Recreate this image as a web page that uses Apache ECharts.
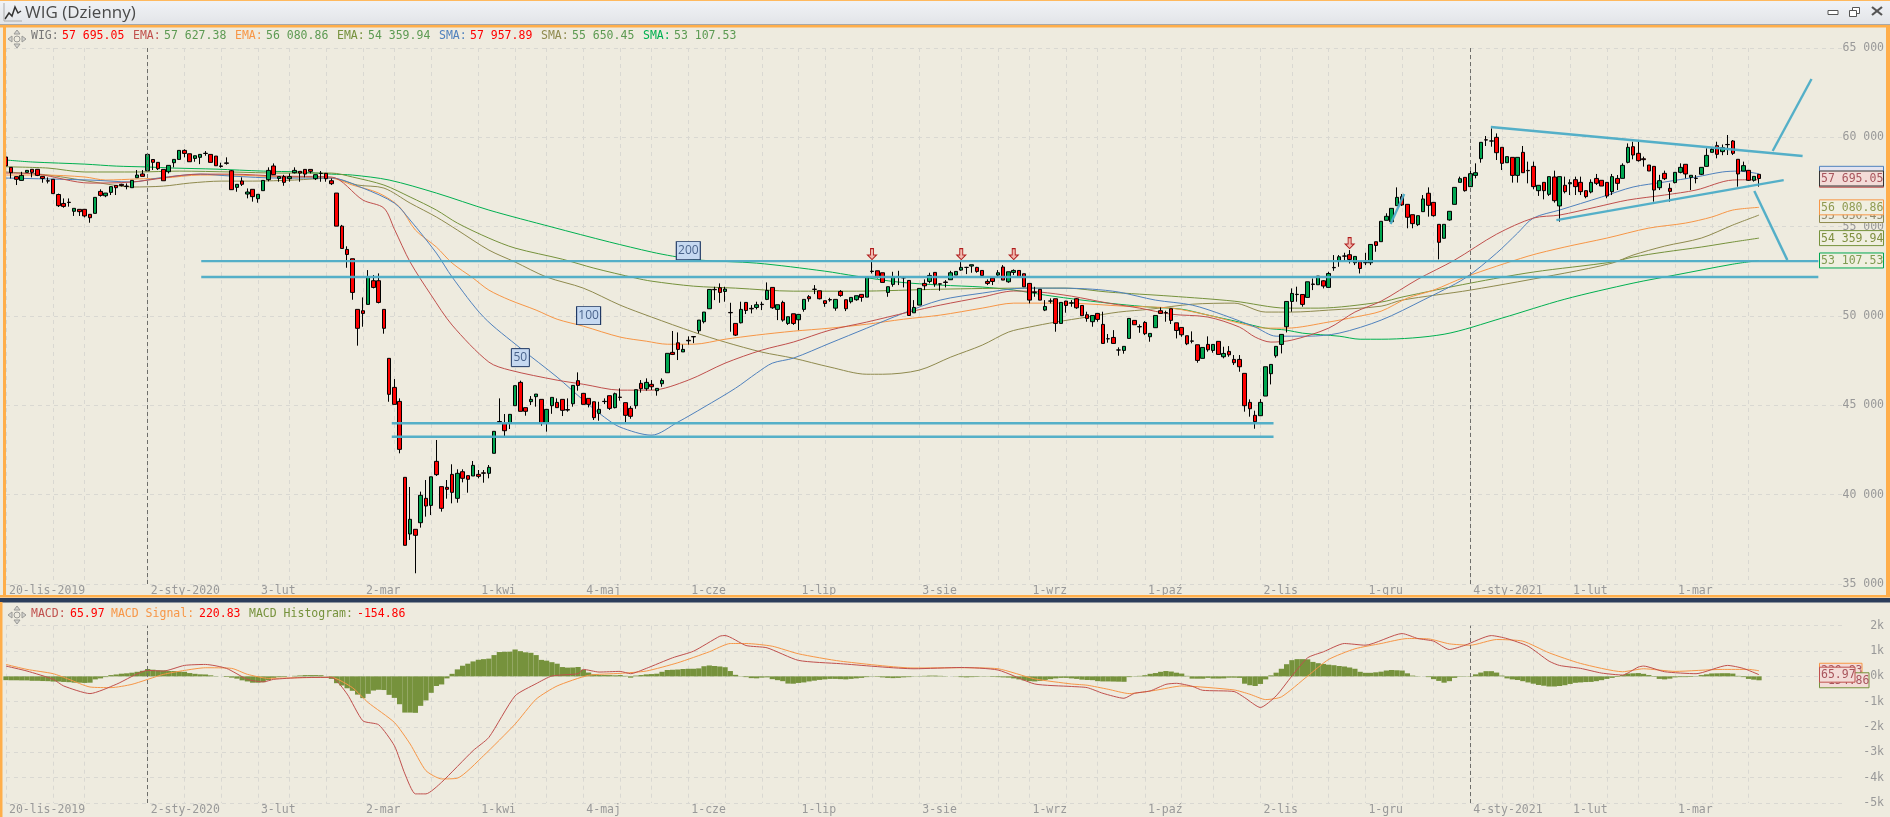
<!DOCTYPE html>
<html>
<head>
<meta charset="utf-8">
<title>WIG (Dzienny)</title>
<style>
  html, body { margin: 0; padding: 0; background: #eeebdf; }
  #main { width: 1890px; height: 817px; }
</style>
</head>
<body>
<div id="main"></div>
<script src="https://cdn.jsdelivr.net/npm/echarts@6/dist/echarts.min.js"></script>
<script>
// os czasu: 335 sesji + pusty margines po prawej
const dayCount = 351
const categories = Array.from({ length: dayCount }, (_, i) => 'd' + i)
const monthLabels = {
  0: '20-lis-2019', 27: '2-sty-2020', 48: '3-lut', 68: '2-mar', 90: '1-kwi', 110: '4-maj',
  130: '1-cze', 151: '1-lip', 174: '3-sie', 195: '1-wrz', 217: '1-paź', 239: '2-lis',
  259: '1-gru', 279: '4-sty-2021', 298: '1-lut', 318: '1-mar'
}
const gridDays = [0, 9, 15, 27, 34, 41, 48, 54, 61, 68, 74, 81, 90, 97, 103, 110, 117, 123, 130, 137, 144,
  151, 156, 165, 174, 182, 189, 195, 202, 208, 217, 224, 230, 239, 245, 252, 259, 266, 272, 279, 285, 291,
  298, 305, 311, 318, 325, 332]
const yearDays = [27, 279]

// [open, close, low, high]
const candles = [
  [58900,58400,58400,58900],[58320,58020,57700,58320],[57800,57650,57330,57800],[57590,57870,57590,58070],[58040,58150,58040,58170],
  [58210,58040,57760,58210],[58210,57870,57830,58210],[57815,57700,57460,57815],[57570,57550,57420,57760],[57650,56850,56850,57650],
  [56800,56175,56100,56850],[56300,56135,56060,56580],[56370,56350,56120,56580],[55860,56025,55600,56025],[55970,55840,55600,55970],
  [55970,55600,55520,55970],[55690,55500,55220,55690],[55745,56640,55745,56640],[56975,56750,56680,57090],[56730,56880,56650,56880],
  [56920,57240,56770,57240],[57310,57180,56770,57310],[57370,57300,57250,57400],[57270,57250,57090,57420],[57180,57590,57180,57590],
  [57740,57890,57740,58170],[57950,57815,57815,58170],[58130,59045,58130,59045],[58760,58600,58170,58760],[58600,58245,58170,58600],
  [58205,57570,57570,58205],[58075,58430,57980,58430],[58580,58765,58320,58765],[58765,59270,58765,59270],[59270,59100,58880,59330],
  [59080,58635,58635,59080],[58820,58970,58635,58970],[58880,59045,58500,59045],[59110,59095,58970,59230],[59045,58600,58600,59045],
  [58950,58410,58410,58950],[58400,58370,58300,58580],[58570,58545,58470,58880],[58130,57070,57070,58170],[57200,57370,56955,57370],
  [57555,57370,57275,57760],[56825,56940,56585,57140],[57090,56680,56400,57090],[56565,56810,56340,56810],[57015,57590,57015,57590],
  [57630,58150,57535,58320],[58395,57910,57910,58540],[57700,57800,57515,57800],[57800,57480,57290,57900],[57685,57800,57515,57980],
  [58020,58150,57980,58320],[58095,58000,57515,58095],[58205,57945,57760,58205],[58205,58095,57980,58205],[57685,57910,57610,57910],
  [57985,57980,57515,58115],[57985,57685,57515,57985],[57570,57405,57330,57700],[56880,55030,55030,56880],[55030,53780,53780,55100],
  [53725,53445,52700,53900],[53205,51320,50910,53205],[50370,49310,48340,50370],[50295,50145,49400,51040],[50650,52200,50650,52570],
  [51975,51600,51545,52290],[51975,50760,50705,52385],[50370,49310,49010,50370],[47630,45615,45200,47630],[46005,45055,45055,46470],
  [45220,42535,42315,45390],[40970,37165,37165,40970],[37800,38620,37465,40430],[38060,37725,35600,38060],[38430,39965,38155,40170],
  [39795,39365,38770,40820],[39400,41000,38860,41000],[41865,41120,41045,43060],[40450,39235,39050,40450],[40410,40300,39775,40820],
  [41135,40130,39515,41700],[39795,41195,39550,41420],[41285,40915,40690,41420],[41065,40860,40110,41065],[41045,41640,41045,41885],
  [41135,41025,40915,41380],[41220,41200,40670,41380],[41195,41530,40915,41660],[42315,43545,42315,43545],[44090,44060,43990,45390],
  [43990,43580,43280,44515],[43990,44495,43675,44495],[44980,46100,44980,46100],[46285,44665,44665,46380],[44870,44665,44420,44870],
  [45205,45335,45015,45520],[45485,45630,44925,45630],[45335,44030,43860,45335],[44030,44775,43525,44775],[44980,45445,44525,45445],
  [45165,44870,44870,45390],[45335,44720,44400,45335],[44760,44735,44645,45390],[45090,46115,44925,46115],[46380,46115,45820,46845],
  [45670,45055,45055,45670],[45390,45055,44885,45390],[45200,44310,44180,45200],[44550,44775,44140,45200],[45225,45210,45070,45390],
  [45540,44830,44740,45540],[44870,45650,44830,45710],[45460,45445,45260,45950],[45150,44440,44030,45150],[44830,44385,44250,44955],
  [44980,45875,44810,45875],[46230,45930,45710,46415],[45930,46285,45820,46510],[46175,46040,45860,46415],[45820,45950,45540,45950],
  [46210,46395,46040,46510],[46825,47910,46825,47910],[47965,47850,47815,49160],[48500,48130,47535,49080],[47990,48130,47990,48400],
  [48640,48610,48400,48860],[48850,48830,48480,48870],[49175,49770,49025,49770],[49680,50220,49585,50220],[50406,51486,50400,51500],
  [51490,51470,50890,51636],[51580,51320,50740,51825],[51375,51505,50800,51636],[50200,50180,49120,50740],[49585,48930,48880,49585],
  [49620,50370,49585,50800],[50760,50310,50110,50760],[50430,50400,50145,50610],[50480,50630,50370,50800],[50660,50640,50330,50800],
  [50930,51430,50890,51880],[51600,50460,50400,51600],[50370,50630,49770,50630],[50760,49770,49680,50855],[49585,49960,49500,49960],
  [50125,49585,49500,50125],[49790,50090,49210,50090],[50370,50930,50240,50930],[51080,50965,50800,51170],[51500,51490,51225,51730],
  [51410,50965,50930,51410],[50855,50700,50515,50855],[50920,50900,50800,51020],[50440,50930,50295,50930],[51375,51150,51075,51450],
  [50910,50405,50275,50910],[50800,51040,50705,51040],[50910,51135,50855,51135],[51210,51040,50800,51210],[51056,52176,51056,52176],
  [52510,52490,52380,53035],[52530,52160,52100,52530],[52420,51880,51880,52420],[51320,51640,51075,51640],[51770,52195,51640,52475],
  [52210,52190,51730,52530],[52150,52130,51600,52200],[51990,50030,50030,51990],[50180,50480,50180,50890],[50610,51545,50610,51545],
  [51825,51690,51450,52050],[51935,52270,51825,52420],[52440,51785,51635,52440],[51800,51785,51410,51825],[51900,51880,51600,52010],
  [52030,52420,52030,52530],[52290,52495,52290,52495],[52570,52720,52530,53070],[52720,52720,52345,52750],[52795,52870,52420,52870],
  [52720,52495,52420,52750],[52550,52270,52270,52550],[51935,51825,51730,52050],[52120,51935,51730,52120],[52290,52420,52190,52570],
  [52740,52010,52010,52850],[51915,52475,51860,52475],[52440,52550,52290,52610],[52550,52195,52195,52550],[52365,51635,51635,52365],
  [51825,50890,50705,51825],[51340,51320,51075,51635],[51490,50890,50890,51490],[50330,50535,50275,50890],[50840,50835,50705,50985],
  [50965,49585,49120,50965],[49585,50760,49585,50760],[50835,50590,50185,50850],[50720,50740,50520,50890],[50965,50460,50400,51000],
  [50590,50015,50015,50590],[50070,49865,49680,50240],[49680,50030,49400,50030],[50145,49810,49680,50145],[49530,48465,48465,50240],
  [48730,48720,48505,48990],[48800,48465,48465,49210],[48100,48095,47775,48245],[48075,48300,47890,48300],[48745,49865,48745,49865],
  [49755,49510,49510,49755],[49410,49390,49060,49530],[49640,49010,48930,49715],[48840,49025,48560,49025],[49345,50030,49345,50030],
  [50295,50145,50145,50480],[50190,50180,49680,50295],[50405,49755,49550,50405],[49620,49190,48745,49620],[49360,48950,48840,49360],
  [48895,48445,48370,48895],[48605,48590,48470,49140],[48390,47515,47385,48390],[47630,48240,47630,48240],[48410,48110,48000,48860],
  [48075,48410,47945,48410],[48580,47850,47850,48580],[47720,47905,47630,48280],[48020,47830,47720,48315],[47570,47385,47255,47815],
  [47570,47160,46880,47815],[46790,44980,44645,46790],[45165,44810,44365,45335],[44440,44085,43690,44700],[44420,45165,44420,45350],
  [45520,47160,45520,47160],[46770,47290,46170,47290],[47775,48300,47665,48300],[48410,48970,47905,48970],[49400,50815,49080,50815],
  [50815,51265,50240,51545],[51215,51200,50800,51640],[51205,50650,50520,51205],[51040,51915,51040,51915],[51790,51770,51450,52100],
  [51750,52235,51750,52235],[51970,51675,51545,52000],[51600,52380,51600,52475],[52720,52700,52530,53410],[53090,53315,52755,53410],
  [53360,53350,53090,53540],[53430,53165,52940,53690],[52980,53335,52850,53335],[53035,52660,52380,53035],[53000,52980,52850,53540],
  [52980,54005,52850,54005],[54155,53950,53595,54155],[54160,55300,54160,55300],[55355,55580,55355,55750],[55280,56025,55280,56025],
  [56175,56640,56175,57200],[56680,56215,56160,56830],[56250,55525,54910,56250],[55670,55170,54910,55670],[55113,55615,55040,55615],
  [55840,56550,55840,56770],[56870,56195,55560,57200],[56360,55615,55560,56360],[55130,54125,53170,55130],[54350,55130,54350,55130],
  [55375,55860,55335,55860],[56250,57200,56250,57200],[57480,57685,57480,57800],[57760,57015,56960,57760],[57240,57965,57240,58265],
  [57870,58020,57705,58545],[58805,59720,58580,59720],[59860,59850,59515,60075],[59800,59790,59475,60500],[60000,59140,58730,60220],
  [59440,58545,58170,59440],[58580,58920,58580,58920],[58880,57870,57465,58880],[57870,58880,57465,58880],[59160,58020,58020,59515],
  [58150,58130,57425,58640],[58375,57240,57090,58640],[57015,57315,56720,57315],[57480,57015,56530,57480],[56810,57800,56720,57800],
  [57780,56455,56345,58135],[56160,57800,55280,57800],[57315,56960,56865,57800],[57400,57465,56770,57650],[57630,57240,56770,57800],
  [57480,56960,56770,57800],[57015,56680,56590,57015],[56940,57480,56865,57650],[57700,57425,57330,57950],[57595,57275,57275,57595],
  [57480,56715,56590,57480],[56960,57800,56770,57950],[57700,57425,57050,57890],[57705,58433,57705,58545],[58600,59440,58545,59660],
  [59475,59010,58770,59755],[59105,58695,58640,59755],[58800,58750,58360,58920],[58450,58115,58115,58450],[58375,57050,56400,58375],
  [57180,57575,57050,57900],[57985,57685,57610,58135],[57145,56975,56400,57425],[57465,58040,57425,58040],[58040,58320,57985,58545],
  [58490,57950,57705,58490],[57760,57875,57050,57875],[57710,57700,57425,57890],[57930,58320,57890,58320],[58375,58990,58375,59385],
  [59160,59330,59160,59400],[59535,59050,58825,59755],[59200,59420,59000,59600],[59600,59590,59010,60130],[59795,59105,59010,59850],
  [58770,57950,57240,58770],[58115,58415,58115,58640],[58153,57595,57555,58153],[57595,57815,57520,57815],[57928,57695,57240,57928]
]

// srednie: [nr sesji, wartosc]
const ema50 = [[0,58000],[6,57940],[16,57440],[24,57500],[37,57940],[43,57940],[52,57830],[62,57780],[68,56490],[72,56040],[74,54860],[77,53020],[81,51170],[85,49490],[92,47420],[96,46970],[105,46410],[110,46180],[117,45850],[123,45850],[130,46410],[137,47360],[144,48090],[150,48540],[157,49210],[164,49660],[172,50220],[178,50610],[186,51060],[192,51400],[197,51340],[203,51110],[210,50720],[216,50440],[222,50100],[229,49940],[235,49380],[238,48820],[241,48540],[245,48650],[252,49320],[257,50220],[262,50830],[269,52060],[276,53130],[284,54580],[291,55480],[296,55650],[303,56100],[309,56490],[316,56770],[322,57050],[329,57610],[334,57627]]
const ema100 = [[0,57890],[7,57890],[15,57780],[19,57610],[25,57670],[30,57720],[37,57890],[43,57890],[52,57780],[62,57720],[66,57330],[71,56880],[75,56100],[78,54810],[82,53860],[85,52960],[89,52120],[92,51450],[96,50890],[101,50330],[105,49820],[110,49430],[117,48820],[122,48590],[126,48420],[131,48420],[137,48700],[143,48930],[150,49150],[157,49320],[164,49540],[171,49820],[178,50050],[186,50440],[192,50720],[202,50720],[213,50550],[222,50440],[229,50050],[235,49600],[240,49320],[244,49320],[252,49660],[257,49940],[262,50270],[267,51000],[272,51450],[278,52180],[290,53350],[297,53860],[305,54360],[313,54920],[320,55200],[325,55540],[329,55930],[334,56081]]
const ema200 = [[0,58350],[8,58280],[15,58060],[25,58060],[33,58110],[43,58060],[52,58000],[62,58000],[66,57780],[72,57330],[77,56660],[82,55930],[86,55200],[92,54360],[97,53800],[106,53180],[112,52680],[120,52120],[123,51950],[131,51670],[139,51560],[150,51390],[162,51390],[178,51500],[194,51560],[202,51560],[210,51340],[222,51110],[234,50830],[244,50440],[250,50440],[262,50780],[266,51060],[279,51840],[291,52460],[306,53020],[310,53300],[316,53580],[323,53860],[329,54140],[334,54360]]
const sma50 = [[0,57720],[16,57610],[24,57500],[29,57720],[37,57940],[43,57830],[52,57720],[62,57720],[68,57160],[74,56320],[77,55370],[82,53520],[85,52180],[91,49940],[98,48200],[105,46580],[110,45290],[114,44340],[117,43780],[123,43330],[128,44060],[133,44900],[139,45960],[143,46800],[146,47360],[150,47640],[157,48480],[164,49320],[171,50160],[178,50890],[186,51280],[194,51560],[201,51560],[207,51500],[212,51340],[219,50890],[226,50610],[232,50050],[238,49380],[242,48870],[248,48870],[254,49040],[262,49770],[270,50890],[278,52120],[284,53520],[288,54640],[291,55480],[296,55930],[304,56660],[310,57220],[316,57500],[322,57780],[327,58060],[330,58110],[334,57958]]
const sma100 = [[0,58060],[8,57890],[18,57440],[24,57220],[30,57270],[35,57440],[41,57550],[47,57550],[55,57610],[62,57720],[67,57330],[72,57160],[77,56320],[82,55540],[86,54810],[92,53690],[97,53020],[103,52180],[110,51560],[117,50610],[123,49940],[131,49100],[137,48540],[144,47980],[150,47640],[157,47140],[164,46740],[167,46740],[174,46970],[180,47700],[186,48370],[191,49100],[195,49380],[200,49660],[206,49940],[212,50220],[218,50380],[226,50660],[234,50720],[240,50220],[245,50220],[252,50330],[262,50550],[266,50890],[279,51450],[297,52400],[306,52960],[310,53410],[316,53910],[323,54360],[329,55090],[334,55650]]
const sma200 = [[0,58730],[5,58620],[15,58500],[21,58390],[27,58340],[32,58280],[40,58220],[49,58110],[56,58060],[62,57940],[66,57890],[73,57610],[82,56880],[92,55930],[104,54980],[115,54140],[123,53580],[127,53350],[132,53130],[143,52960],[156,52510],[162,52230],[170,51900],[178,51730],[186,51620],[192,51450],[198,51170],[205,50890],[212,50660],[218,50500],[224,50380],[229,50050],[235,49660],[240,49320],[244,49210],[247,49040],[254,48870],[258,48700],[262,48700],[274,48980],[285,49880],[297,50940],[310,51840],[318,52290],[329,52900],[334,53108]]

// odreczne linie na wykresie (wsparcia, trojkat, strzalki)
const drawnLines = [
  [[37.2,53070],[345.3,53070]],
  [[37.2,52180],[345.3,52180]],
  [[73.5,44000],[241.5,44000]],
  [[73.5,43240],[241.5,43240]],
  [[282.9,60576],[342.3,58952]],
  [[295.4,55368],[338.7,57608]],
  [[336.6,59232],[344,63264]],
  [[333.1,56992],[339.4,53128]],
  [[263.8,55144],[266.4,56824]]
]
const arrowMarks = [[165,53464],[182,53464],[192,53464],[256,54080]]

// MACD
const macdLine = [[0,406],[4,210],[9,-118],[11,-380],[16,-680],[21,-315],[27,235],[30,210],[34,432],[38,470],[42,315],[46,-118],[49,-220],[51,-118],[56,-52],[62,-40],[65,-700],[68,-1755],[71,-1912],[74,-2740],[76,-3850],[78,-4640],[80,-4640],[83,-4180],[89,-2930],[92,-2410],[97,-770],[101,-290],[104,13],[109,105],[110,275],[113,170],[117,196],[119,105],[122,315],[127,733],[131,995],[136,1585],[137,1611],[141,1218],[145,1127],[151,630],[159,500],[173,300],[182,350],[189,250],[196,-300],[203,-400],[206,-445],[209,-670],[213,-865],[215,-670],[218,-575],[221,-315],[223,-275],[226,-393],[228,-550],[234,-600],[236,-840],[239,-1230],[242,-770],[245,13],[248,733],[251,970],[255,1297],[259,1230],[266,1690],[269,1493],[272,1390],[275,1060],[278,1230],[283,1610],[286,1490],[290,1190],[294,600],[296,430],[300,315],[304,130],[308,52],[311,367],[312,406],[316,183],[322,105],[328,432],[331,315],[334,66]]
const macdSignal = [[0,470],[4,275],[9,105],[12,-118],[16,-420],[20,-445],[24,-315],[30,79],[34,235],[38,340],[43,315],[46,80],[50,-80],[56,-52],[62,-40],[66,-445],[69,-1035],[74,-1820],[77,-2670],[80,-3720],[83,-4050],[86,-4020],[91,-3130],[97,-1885],[101,-900],[105,-380],[111,40],[117,118],[122,210],[128,537],[134,970],[138,1297],[141,1297],[146,1190],[151,890],[159,600],[173,330],[182,340],[189,300],[196,-100],[203,-300],[206,-350],[210,-510],[214,-680],[219,-550],[224,-380],[234,-537],[237,-707],[240,-917],[243,-810],[248,13],[252,668],[257,1087],[262,1297],[267,1493],[271,1480],[275,1284],[279,1230],[284,1454],[289,1390],[294,930],[300,510],[308,183],[312,300],[318,196],[327,275],[332,275],[334,221]]
const macdHist = [-150,-155,-155,-160,-160,-175,-175,-185,-190,-205,-205,-220,-230,-250,-250,-260,-250,-120,-80,-30,50,75,105,120,145,180,220,290,262,240,235,210,210,190,180,130,100,80,75,40,10,0,-26,-50,-90,-157,-200,-250,-250,-230,-150,-60,-30,-26,0,20,35,50,50,50,45,10,-100,-270,-360,-470,-570,-720,-860,-690,-560,-530,-540,-730,-850,-1100,-1430,-1430,-1440,-1165,-950,-650,-380,-320,-80,100,275,420,500,590,655,680,700,840,960,970,975,1060,995,950,930,840,650,620,560,500,367,345,350,370,262,150,80,52,52,50,40,52,20,-52,30,52,79,90,105,180,250,260,270,290,300,300,315,400,430,410,390,360,210,60,-10,-30,-70,-78,-50,-40,-110,-150,-190,-285,-290,-260,-240,-200,-170,-140,-120,-100,-100,-110,-120,-100,-80,-60,-30,-10,-20,-40,-60,-70,-60,-40,-30,-10,10,20,30,30,20,10,0,-10,-30,-40,-30,-20,-10,-10,-20,-30,-40,-50,-80,-120,-160,-190,-200,-180,-140,-110,-80,-60,-60,-80,-100,-130,-144,-150,-190,-200,-200,-205,-210,-215,-30,-10,20,45,100,130,180,210,190,145,110,20,-90,-92,-92,-60,-85,-85,-80,-52,-52,-60,-290,-350,-380,-300,-120,40,145,300,480,640,680,680,670,570,520,490,460,440,410,390,350,300,180,140,140,160,185,230,250,240,230,120,30,10,0,-30,-110,-180,-250,-190,-60,-15,10,15,80,150,205,205,150,30,-80,-120,-145,-190,-240,-290,-340,-370,-400,-400,-380,-350,-300,-255,-240,-225,-220,-190,-150,-100,-60,-25,50,110,120,130,100,50,-20,-100,-120,-90,-40,-30,-30,-25,10,50,80,115,120,125,125,110,20,-30,-100,-130,-155]

const upperTicks = { min: 35000, max: 65000, interval: 5000 }
const lowerTicks = { min: -5000, max: 2000, interval: 1000 }

// kolory
const colors = { ema50: '#c0504d', ema100: '#f79646', ema200: '#76923c', sma50: '#4f81bd', sma100: '#8f8a4e', sma200: '#00b050', drawn: '#4bacc6', hist: '#76923c' }
const monoFont = '"DejaVu Sans Mono", monospace'
const paper = '#eeebdf'

const chart = echarts.init(document.getElementById('main'), null, { renderer: 'canvas' })

function categoryAxis(gridIndex) {
  return {
    type: 'category',
    gridIndex,
    data: categories,
    boundaryGap: false,
    axisLine: { show: false },
    axisTick: { show: false },
    axisLabel: {
      color: '#999',
      fontFamily: monoFont,
      fontSize: 11.5,
      margin: 1,
      align: 'left',
      padding: [0, 0, 0, 3],
      interval: i => monthLabels[i] !== undefined,
      formatter: (v, i) => monthLabels[i] || ''
    },
    splitLine: {
      show: true,
      interval: i => gridDays.includes(i),
      lineStyle: { color: '#d9d8d2', type: [4, 4], width: 1 }
    }
  }
}

function hiddenValueAxis(gridIndex) {
  return { type: 'value', gridIndex, min: 0, max: dayCount - 1, show: false, splitLine: { show: false } }
}

function valueAxis(gridIndex, ticks, formatter) {
  return {
    type: 'value',
    gridIndex,
    position: 'right',
    scale: true,
    min: ticks.min,
    max: ticks.max,
    interval: ticks.interval,
    axisLine: { show: false },
    axisTick: { show: false },
    axisLabel: { color: '#999', fontFamily: monoFont, fontSize: 11.5, align: 'right', margin: 41, formatter },
    splitLine: { show: true, lineStyle: { color: '#d9d8d2', type: [4, 4], width: 1 } }
  }
}

function avgSeries(name, data, color, badge) {
  const s = {
    name,
    type: 'line',
    xAxisIndex: 2,
    yAxisIndex: 0,
    data,
    smooth: 0.3,
    symbol: 'none',
    z: 2,
    lineStyle: { color, width: 1 },
    emphasis: { disabled: true }
  }
  if (badge) {
    s.markPoint = {
      symbol: 'rect',
      symbolSize: [badge.w, 18],
      z: 6,
      data: [{ coord: badge.at }],
      itemStyle: { color: '#c6d9f1', borderColor: '#1f3864', borderWidth: 1 },
      label: { show: true, formatter: badge.text, color: '#4a648c', fontFamily: '"Open Sans", sans-serif', fontSize: 12, position: 'inside' }
    }
  }
  return s
}

const yearMarks = {
  symbol: 'none',
  silent: true,
  label: { show: false },
  lineStyle: { color: '#6e6e6a', type: [4, 3], width: 1 },
  data: yearDays.map(d => ({ xAxis: d }))
}

const series = [
  avgSeries('SMA200', sma200, colors.sma200, { at: [130, 53660], w: 24, text: '200' }),
  avgSeries('EMA200', ema200, colors.ema200),
  avgSeries('SMA100', sma100, colors.sma100),
  avgSeries('EMA100', ema100, colors.ema100, { at: [111, 50020], w: 24, text: '100' }),
  avgSeries('SMA50', sma50, colors.sma50, { at: [98, 47670], w: 18, text: '50' }),
  avgSeries('EMA50', ema50, colors.ema50),
  {
    name: 'WIG',
    type: 'candlestick',
    xAxisIndex: 0,
    yAxisIndex: 0,
    data: candles,
    barWidth: 4,
    z: 4,
    itemStyle: {
      color: '#00a650',
      color0: '#ff0000',
      borderColor: '#000',
      borderColor0: '#000',
      borderColorDoji: '#000',
      borderWidth: 1
    },
    markLine: yearMarks,
    markPoint: {
      symbol: 'path://M3,0 H6 V7 H9 L4.5,12 L0,7 H3 Z',
      symbolSize: [9, 11],
      itemStyle: { color: '#f2b8ae', borderColor: '#b01c1c', borderWidth: 1 },
      label: { show: false },
      data: arrowMarks.map(a => ({ coord: [categories[a[0]], a[1]] }))
    }
  },
  {
    name: 'MACD Histogram',
    type: 'bar',
    xAxisIndex: 1,
    yAxisIndex: 1,
    data: macdHist,
    barWidth: 5.25,
    z: 1,
    itemStyle: { color: colors.hist },
    markLine: yearMarks
  },
  {
    name: 'MACD Signal',
    type: 'line',
    xAxisIndex: 3,
    yAxisIndex: 1,
    data: macdSignal,
    smooth: 0.2,
    symbol: 'none',
    z: 3,
    lineStyle: { color: colors.ema100, width: 1 }
  },
  {
    name: 'MACD',
    type: 'line',
    xAxisIndex: 3,
    yAxisIndex: 1,
    data: macdLine,
    smooth: 0.2,
    symbol: 'none',
    z: 4,
    lineStyle: { color: colors.ema50, width: 1 }
  }
]

drawnLines.forEach((pts, i) => {
  series.push({
    name: 'drawn' + i,
    type: 'line',
    xAxisIndex: 2,
    yAxisIndex: 0,
    data: pts,
    symbol: 'none',
    z: 8,
    lineStyle: { color: colors.drawn, width: 2.4, opacity: 0.95 }
  })
})

chart.setOption({
  animation: false,
  backgroundColor: paper,
  grid: [
    { left: 6, right: 47, top: 48, height: 536, containLabel: false },
    { left: 6, right: 47, top: 625.7, height: 177.3, containLabel: false }
  ],
  xAxis: [categoryAxis(0), categoryAxis(1), hiddenValueAxis(0), hiddenValueAxis(1)],
  yAxis: [
    valueAxis(0, upperTicks, v => String(v).slice(0, 2) + ' 000'),
    valueAxis(1, lowerTicks, v => v / 1000 + 'k')
  ],
  series
})

// ramka okna, legendy i etykiety ostatnich wartosci
function txt(x, y, text, fill, font) {
  return { type: 'text', z: 60, x, y, style: { text, fill, font: font || '11.5px ' + monoFont, textVerticalAlign: 'middle' } }
}
function rect(x, y, w, h, fill, z) {
  return { type: 'rect', z: z || 50, shape: { x, y, width: w, height: h }, style: { fill } }
}
function tag(value, axisIndex, text, border, fill, ink, w, z) {
  const cy = chart.convertToPixel({ yAxisIndex: axisIndex }, value)
  return [
    { type: 'rect', z, shape: { x: 1819.5, y: cy - 7.5, width: w, height: 15 }, style: { fill, stroke: border, lineWidth: 1 } },
    { type: 'text', z: z + 1, x: 1821, y: cy + 0.5, style: { text, fill: ink, font: '11.5px ' + monoFont, textVerticalAlign: 'middle' } }
  ]
}
function handle(cx, cy) {
  const c = '#9a9a96'
  return [
    { type: 'circle', z: 60, shape: { cx, cy, r: 3 }, style: { fill: 'none', stroke: c } },
    { type: 'polygon', z: 60, shape: { points: [[cx - 3, cy - 5], [cx + 3, cy - 5], [cx, cy - 9]] }, style: { fill: '#d4d4d0', stroke: c } },
    { type: 'polygon', z: 60, shape: { points: [[cx - 3, cy + 5], [cx + 3, cy + 5], [cx, cy + 9]] }, style: { fill: '#d4d4d0', stroke: c } },
    { type: 'polygon', z: 60, shape: { points: [[cx - 5, cy - 3], [cx - 5, cy + 3], [cx - 9, cy]] }, style: { fill: '#d4d4d0', stroke: c } },
    { type: 'polygon', z: 60, shape: { points: [[cx + 5, cy - 3], [cx + 5, cy + 3], [cx + 9, cy]] }, style: { fill: '#d4d4d0', stroke: c } }
  ]
}

const red = '#ff0000'
const green = '#5c9a52'
const topLegend = [
  [31, 'WIG:', '#777'], [62, '57 695.05', red],
  [133, 'EMA:', colors.ema50], [164, '57 627.38', green],
  [235, 'EMA:', colors.ema100], [266, '56 080.86', green],
  [337, 'EMA:', colors.ema200], [368, '54 359.94', green],
  [439, 'SMA:', colors.sma50], [470, '57 957.89', red],
  [541, 'SMA:', colors.sma100], [572, '55 650.45', green],
  [643, 'SMA:', colors.sma200], [674, '53 107.53', green]
]
const lowerLegend = [
  [31, 'MACD:', colors.ema50], [70, '65.97', red],
  [111, 'MACD Signal:', colors.ema100], [199, '220.83', red],
  [249, 'MACD Histogram:', colors.ema200], [357, '-154.86', red]
]

const chrome = [
  { type: 'rect', z: 50, shape: { x: 0, y: 0, width: 1890, height: 25 }, style: { fill: new echarts.graphic.LinearGradient(0, 0, 0, 1, [{ offset: 0, color: '#f1f3f6' }, { offset: 1, color: '#e2e4e8' }]) } },
  rect(0, 0, 1890, 1, '#ffb95e'),
  rect(0, 24, 1890, 1, '#a8a8a8'),
  rect(0, 25, 1890, 2.5, '#ffae4a'),
  rect(3, 25, 3, 572, '#ffae4a'),
  rect(1886, 25, 4, 572, '#ffae4a'),
  rect(0, 595, 1890, 2.5, '#ffae4a'),
  rect(0, 598, 1890, 4.5, '#2b3d5b'),
  rect(0, 602, 2.5, 215, '#ffae4a'),
  { type: 'polyline', z: 55, shape: { points: [[5, 19], [9, 13], [12, 16], [15, 7], [18, 13], [21, 11]] }, style: { stroke: '#333', fill: 'none', lineWidth: 1.5 } },
  { type: 'polyline', z: 55, shape: { points: [[4, 3], [4, 21], [22, 21]] }, style: { stroke: '#aaa', fill: 'none', lineWidth: 1 } },
  { type: 'text', z: 60, x: 25, y: 13, style: { text: 'WIG (Dzienny)', fill: '#4a4a4a', font: '17px "Open Sans", sans-serif', textVerticalAlign: 'middle' } },
  // przyciski okna
  { type: 'rect', z: 60, shape: { x: 1828, y: 10.5, width: 10, height: 4 }, style: { fill: '#fff', stroke: '#555' } },
  { type: 'rect', z: 60, shape: { x: 1852.5, y: 7.5, width: 7, height: 6 }, style: { fill: '#fff', stroke: '#555' } },
  { type: 'rect', z: 61, shape: { x: 1849.5, y: 10.5, width: 7, height: 6 }, style: { fill: '#fff', stroke: '#555' } },
  { type: 'line', z: 60, shape: { x1: 1872, y1: 7, x2: 1882, y2: 15 }, style: { stroke: '#555', lineWidth: 2.2 } },
  { type: 'line', z: 60, shape: { x1: 1882, y1: 7, x2: 1872, y2: 15 }, style: { stroke: '#555', lineWidth: 2.2 } },
  ...handle(17, 39),
  ...handle(17, 615),
  ...topLegend.map(t => txt(t[0], 36.5, t[1], t[2])),
  ...lowerLegend.map(t => txt(t[0], 614, t[1], t[2])),
  // etykiety ostatnich wartosci
  ...tag(57957.89, 0, '', colors.sma50, '#e4e4f0', '#777', 64, 30),
  ...tag(57627.38, 0, '', colors.ema50, '#f3dcd8', '#777', 64, 32),
  ...tag(57695.05, 0, '57 695.05', '#333', '#f3dcd8', '#a8545c', 64, 34),
  ...tag(55650.45, 0, '55 650.45', colors.sma100, '#eeede0', '#8f8a6e', 64, 30),
  ...tag(56080.86, 0, '56 080.86', colors.ema100, '#f0efe0', '#8f9a50', 64, 32),
  ...tag(54359.94, 0, '54 359.94', colors.ema200, '#f0efe0', '#7f8f40', 64, 30),
  ...tag(53107.53, 0, '53 107.53', '#00a650', '#f0efe0', '#7f9a50', 64, 30),
  ...tag(220.83, 1, '220.83', colors.ema100, '#f3dcd8', '#a8545c', 42.5, 30),
  ...tag(-154.86, 1, '-154.86', colors.ema200, '#f3dcd8', '#a8545c', 49.5, 32),
  ...tag(65.97, 1, '65.97', colors.ema50, '#f3dcd8', '#a8545c', 35.5, 34)
]

chart.setOption({ graphic: { elements: chrome } })
</script>
</body>
</html>
